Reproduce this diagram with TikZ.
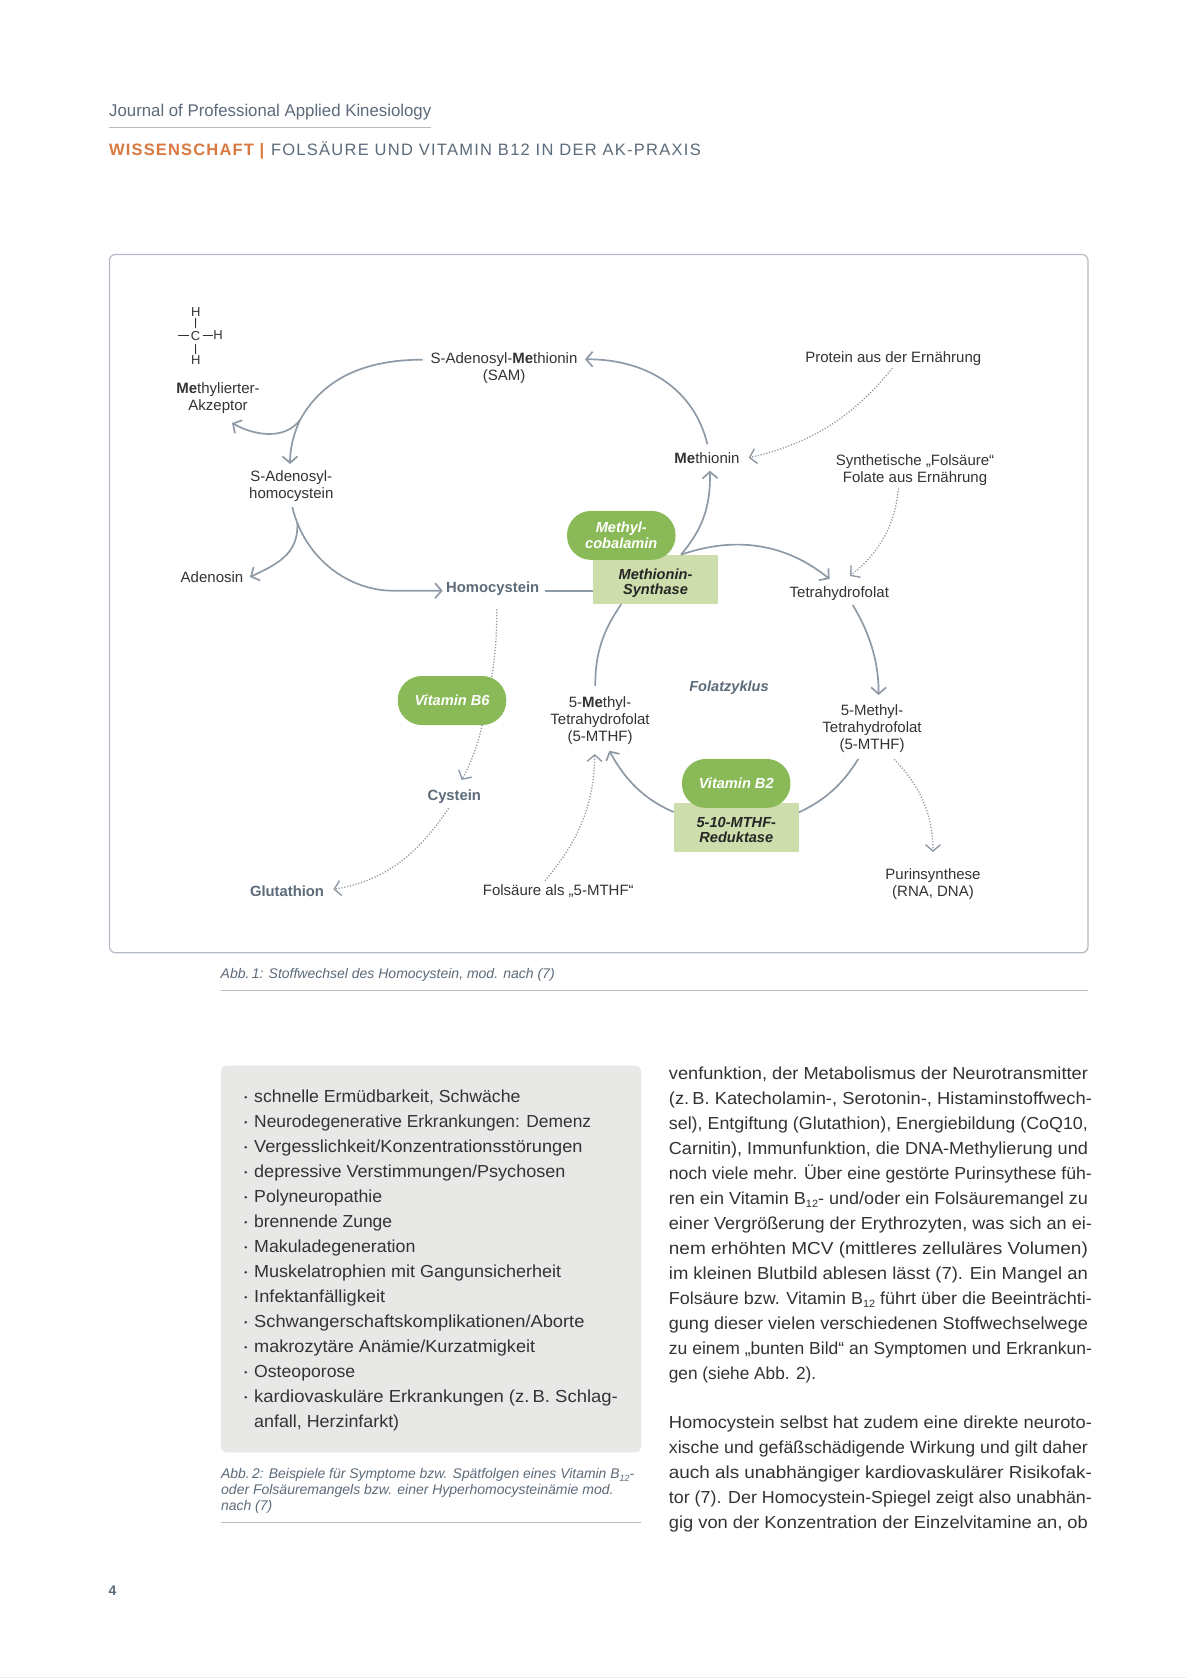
\documentclass[tikz,border=0pt]{standalone}
\usepackage{fontspec}
\usepackage{graphicx}
\setmainfont{Liberation Sans}
\usetikzlibrary{arrows.meta,calc}
\definecolor{linec}{HTML}{8E9AA6}
\definecolor{framec}{HTML}{B4BCC5}
\definecolor{greyt}{HTML}{5C6B7A}
\definecolor{inkc}{HTML}{333333}
\definecolor{orangec}{HTML}{D9783F}
\definecolor{pillc}{HTML}{8ABA58}
\definecolor{boxc}{HTML}{CDDDAB}
\definecolor{panelc}{HTML}{E8E8E7}
\tikzset{
  lbl/.style={inner sep=0pt,align=center,text=inkc,font=\fontsize{15}{17}\selectfont},
  lblb/.style={inner sep=0pt,align=center,text=greyt,font=\fontsize{14.8}{17}\selectfont\bfseries},
  enz/.style={fill=boxc,inner sep=0pt,minimum width=125pt,minimum height=49pt},
  enztxt/.style={inner sep=0pt,align=center,text=black!85,font=\fontsize{14.6}{15.2}\selectfont\bfseries\itshape},
  pill/.style={fill=pillc,rounded corners=24pt,inner sep=0pt,minimum width=108.5pt,minimum height=49pt,align=center,text=white,font=\fontsize{14.6}{16.2}\selectfont\bfseries\itshape},
  conn/.style={draw=linec,line width=1.7pt,-{Straight Barb[length=6.5pt,width=15pt,line width=1.7pt]}},
  plain/.style={draw=linec,line width=1.7pt},
  dotc/.style={draw=linec,line width=1.3pt,dash pattern=on 1.2pt off 1.7pt,-{Straight Barb[length=6.5pt,width=15pt,line width=1.4pt]}},
  dotp/.style={draw=linec,line width=1.3pt,dash pattern=on 1.2pt off 1.7pt},
  body/.style={inner sep=0pt,anchor=base west,text=inkc,font=\fontsize{17.4}{25}\selectfont},
  capt/.style={inner sep=0pt,anchor=base west,text=greyt,font=\fontsize{14}{16}\selectfont\itshape},
  hatom/.style={inner sep=1pt,text=inkc,font=\fontsize{13}{14}\selectfont},
}
\newcommand\mebold{\textbf{Me}}
\newcommand\fitw[2]{\resizebox{#1pt}{\height}{#2}}
\newcommand\jl[1]{\fitw{419}{#1}}
\newcommand\jh[1]{\fitw{423}{#1}}
\newcommand\subtw{\raisebox{-3.5pt}{\fontsize{10.5}{10}\selectfont 12}}
\newcommand\rcol[3]{\node[body] (r#1) at (668.7,#2) {#3};}
\begin{document}
\begin{tikzpicture}[x=1pt,y=-1pt]
\useasboundingbox (0,0) rectangle (1186,1678);
\fill[white] (0,0) rectangle (1186,1678);
\fill[black!7] (0,1676.6) rectangle (1186,1678);
% header
\node[inner sep=0pt,anchor=base west,text=greyt,font=\fontsize{17}{20}\selectfont] (journal) at (109,116.5) {\fitw{322}{Journal of Professional Applied Kinesiology}};
\draw[framec,line width=1.1pt] (109,127.7) -- (431,127.7);
\node[inner sep=0pt,anchor=base west,text=orangec,font=\fontsize{16.5}{20}\selectfont\bfseries\addfontfeature{LetterSpace=7}] (wisst) at (109,155) {WISSENSCHAFT |};
\node[inner sep=0pt,anchor=base west,text=greyt,font=\fontsize{16.5}{20}\selectfont\addfontfeature{LetterSpace=7.7}] (folhead) at (270.8,155) {FOLSÄURE UND VITAMIN B12 IN DER AK-PRAXIS};
% frame
\draw[framec,line width=1.2pt,rounded corners=6pt] (109.5,254.5) rectangle (1088,952.7);
% methyl group
\node[hatom] (ht) at (195.7,312.3) {H};
\node[hatom] (cc) at (195.5,336) {C};
\node[hatom] (hr) at (218,335.5) {H};
\node[hatom] (hb) at (195.7,360) {H};
\coordinate (cl) at (178,335);
\draw[draw=inkc,line width=0.9pt] ([shift={(0,5.5)}]ht.center) -- ([shift={(0,-8)}]cc.center);
\draw[draw=inkc,line width=0.9pt] ([shift={(0,8)}]cc.center) -- ([shift={(0,-6)}]hb.center);
\draw[draw=inkc,line width=0.9pt] (cl) -- ([shift={(-7,-1)}]cc.center);
\draw[draw=inkc,line width=0.9pt] ([shift={(7,-1)}]cc.center) -- ([shift={(-5.5,-0.5)}]hr.center);
% labels
\node[lbl] (akz) at (218,397.8) {\mebold thylierter-\\Akzeptor};
\node[lbl] (sam) at (504,368.3) {S-Adenosyl-\mebold thionin\\(SAM)};
\node[lbl] (shc) at (291.3,486) {S-Adenosyl-\\homocystein};
\node[lbl] (aden) at (212,577) {Adenosin};
\node[lblb] (hc) at (492.7,588.5) {Homocystein};
\node[lbl] (meth) at (707,457.7) {\mebold thionin};
\node[lbl] (prot) at (893.3,358.7) {Protein aus der Ernährung};
\node[lbl] (syn) at (915,470) {Synthetische „Folsäure“\\Folate aus Ernährung};
\node[lbl] (thf) at (839.3,593.5) {Tetrahydrofolat};
\node[lbl] (mr) at (872,728.5) {5-Methyl-\\Tetrahydrofolat\\(5-MTHF)};
\node[lbl] (ml) at (600,720.7) {5-\mebold thyl-\\Tetrahydrofolat\\(5-MTHF)};
\node[lbl] (pur) at (933,884) {Purinsynthese\\(RNA, DNA)};
\node[lblb,font=\fontsize{14.6}{17}\selectfont\bfseries\itshape] (fz) at (729,688) {Folatzyklus};
\node[lblb] (cys) at (454.3,796.7) {Cystein};
\node[lblb] (glu) at (287,890.7) {Glutathion};
\node[lbl] (fol) at (558.3,891.2) {Folsäure als „5-MTHF“};
% enzymes and cofactors
\node[enz,minimum height=48.7pt] (ms) at (655.5,579.7) {};
\node[enztxt] (mst) at (655.5,583.3) {Methionin-\\Synthase};
\node[pill] (mc) at (621.3,535.4) {Methyl-\\cobalamin};
\node[enz,minimum width=125.3pt,minimum height=48.7pt] (red) at (736.3,827.7) {};
\node[enztxt] (redt) at (736.3,830) {5-10-MTHF-\\Reduktase};
\node[pill] (b2) at (736.2,783.4) {Vitamin B2};
\node[pill] (b6) at (452,700.5) {Vitamin B6};
% junctions
\coordinate (j1) at (300,420);
\coordinate (j2) at (297.3,523);
% connectors
\path[plain] ([shift={(-81.3,-8.6)}]sam.center) .. controls (370,359.7) and (325,375) .. (j1);
\path[conn] (j1) .. controls (293,435) and (290,450) .. ([shift={(-1.3,-22)}]shc.center);
\path[conn] (j1) .. controls (285,440) and (255,436) .. ([shift={(14,25.2)}]akz.center);
\path[conn] ([shift={(1,21)}]shc.center) .. controls (305,560) and (350,590.7) .. (393,590.7) -- ([shift={(-50,2.2)}]hc.center);
\path[conn] (j2) .. controls (299,555) and (275,565) .. ([shift={(38,0)}]aden.center);
\path[plain] ([shift={(52,2.2)}]hc.center) -- ([shift={(0,11)}]ms.west);
\path[conn] ([shift={(0.4,-13.4)}]meth.center) .. controls (695,392) and (650,359) .. ([shift={(81,-9)}]sam.center);
\path[conn] ([shift={(25.5,-25)}]ms.center) .. controls (700,532) and (711,510) .. ([shift={(2.8,13)}]meth.center);
\path[conn] ([shift={(25.5,-25)}]ms.center) .. controls (735,536) and (785,543) .. ([shift={(-9.7,-14.5)}]thf.center);
\path[conn] ([shift={(13.4,11.5)}]thf.center) .. controls (868,630) and (879,660) .. ([shift={(6.5,-33.5)}]mr.center);
\path[plain] ([shift={(-13.7,30.5)}]mr.center) .. controls (842,785) and (825,800) .. ([shift={(62.7,-15.4)}]red.center);
\path[conn] ([shift={(-62.6,-15.7)}]red.center) .. controls (645,800) and (625,780) .. ([shift={(9.3,30)}]ml.center);
\path[plain] ([shift={(-4.7,-34.7)}]ml.center) .. controls (595,650) and (605,628) .. ([shift={(-34.2,24.4)}]ms.center);
% dotted connectors
\path[dotc] ([shift={(-1,9.6)}]prot.center) .. controls (860,408) and (820,442) .. ([shift={(41.7,0)}]meth.center);
\path[dotc] ([shift={(-16.5,18.3)}]syn.center) .. controls (895,525) and (880,552) .. ([shift={(10.7,-17.5)}]thf.center);
\path[dotc] ([shift={(22,30.8)}]mr.center) .. controls (920,785) and (933,815) .. ([shift={(0,-32)}]pur.center);
\path[dotp] ([shift={(4,20.8)}]hc.center) .. controls (497,630) and (496,650) .. ([shift={(39.7,-23.2)}]b6.center);
\path[dotc] ([shift={(30,24.5)}]b6.center) .. controls (478,745) and (470,765) .. ([shift={(7.4,-16.7)}]cys.center);
\path[dotc] ([shift={(-5.6,11.6)}]cys.center) .. controls (420,850) and (390,880) .. ([shift={(46.3,-1.4)}]glu.center);
\path[dotc] ([shift={(-13.3,-10.5)}]fol.center) .. controls (575,845) and (594,810) .. ([shift={(-5.3,33.3)}]ml.center);
% caption 1
\node[capt] (cap1) at (220.5,978) {\fitw{334}{Abb.\,1: Stoffwechsel des Homocystein, mod. nach (7)}};
\draw[framec,line width=1.1pt] (220.5,990.3) -- (1088,990.3);
% panel
\fill[panelc,rounded corners=5pt] (221,1065.7) rectangle (641,1452.3);
\foreach \w/\t [count=\i] in {266.3/{schnelle Ermüdbarkeit, Schwäche},337/{Neurodegenerative Erkrankungen: Demenz},328.3/{Vergesslichkeit/Konzentrationsstörungen},311.3/{depressive Verstimmungen/Psychosen},128/{Polyneuropathie},138/{brennende Zunge},161.3/{Makuladegeneration},307/{Muskelatrophien mit Gangunsicherheit},131/{Infektanfälligkeit},330.3/{Schwangerschaftskomplikationen/Aborte},281/{makrozytäre Anämie/Kurzatmigkeit},101/{Osteoporose},363.7/{kardiovaskuläre Erkrankungen (z.\,B. Schlag-}}{
  \node[body] (li\i) at (254,{1102.7+25*(\i-1)}) {\fitw{\w}{\t}};
  \fill[inkc] (245.7,{1097.2+25*(\i-1)}) circle (1.4pt);
}
\node[body] (li14) at (254,1427.7) {\fitw{145}{anfall, Herzinfarkt)}};
% caption 2
\node[capt] (cap2a) at (221,1478.3) {\fitw{413}{Abb.\,2: Beispiele für Symptome bzw. Spätfolgen eines Vitamin B\raisebox{-3pt}{\fontsize{9}{10}\selectfont 12}-}};
\node[capt] (cap2b) at (221,1494.3) {\fitw{392.3}{oder Folsäuremangels bzw. einer Hyperhomocysteinämie mod.}};
\node[capt] (cap2c) at (221,1510) {\fitw{51}{nach (7)}};
\draw[framec,line width=1.1pt] (221,1522.3) -- (641,1522.3);
% right column
\rcol{1}{1079.3}{\jl{venfunktion, der Metabolismus der Neurotransmitter}}
\rcol{2}{1104.3}{\jh{(z.\,B. Katecholamin-, Serotonin-, Histaminstoffwech-}}
\rcol{3}{1129.3}{\jl{sel), Entgiftung (Glutathion), Energiebildung (CoQ10,}}
\rcol{4}{1154.3}{\jl{Carnitin), Immunfunktion, die DNA-Methylierung und}}
\rcol{5}{1179.3}{\jh{noch viele mehr. Über eine gestörte Purinsythese füh-}}
\rcol{6}{1204.3}{\jl{ren ein Vitamin B\subtw- und/oder ein Folsäuremangel zu}}
\rcol{7}{1229.3}{\jh{einer Vergrößerung der Erythrozyten, was sich an ei-}}
\rcol{8}{1254.3}{\jl{nem erhöhten MCV (mittleres zelluläres Volumen)}}
\rcol{9}{1279.3}{\jl{im kleinen Blutbild ablesen lässt (7). Ein Mangel an}}
\rcol{10}{1304.3}{\jh{Folsäure bzw. Vitamin B\subtw{} führt über die Beeinträchti-}}
\rcol{11}{1329.3}{\jl{gung dieser vielen verschiedenen Stoffwechselwege}}
\rcol{12}{1354.3}{\jh{zu einem „bunten Bild“ an Symptomen und Erkrankun-}}
\rcol{13}{1379.3}{\fitw{147.3}{gen (siehe Abb. 2).}}
\rcol{14}{1428.3}{\jh{Homocystein selbst hat zudem eine direkte neuroto-}}
\rcol{15}{1453.3}{\jl{xische und gefäßschädigende Wirkung und gilt daher}}
\rcol{16}{1478.3}{\jh{auch als unabhängiger kardiovaskulärer Risikofak-}}
\rcol{17}{1503.3}{\jh{tor (7). Der Homocystein-Spiegel zeigt also unabhän-}}
\rcol{18}{1528.3}{\jl{gig von der Konzentration der Einzelvitamine an, ob}}
% page number
\node[inner sep=0pt,anchor=base west,text=greyt,font=\fontsize{14}{16}\selectfont\bfseries] (pageno) at (108.5,1595) {4};
\end{tikzpicture}
\end{document}
